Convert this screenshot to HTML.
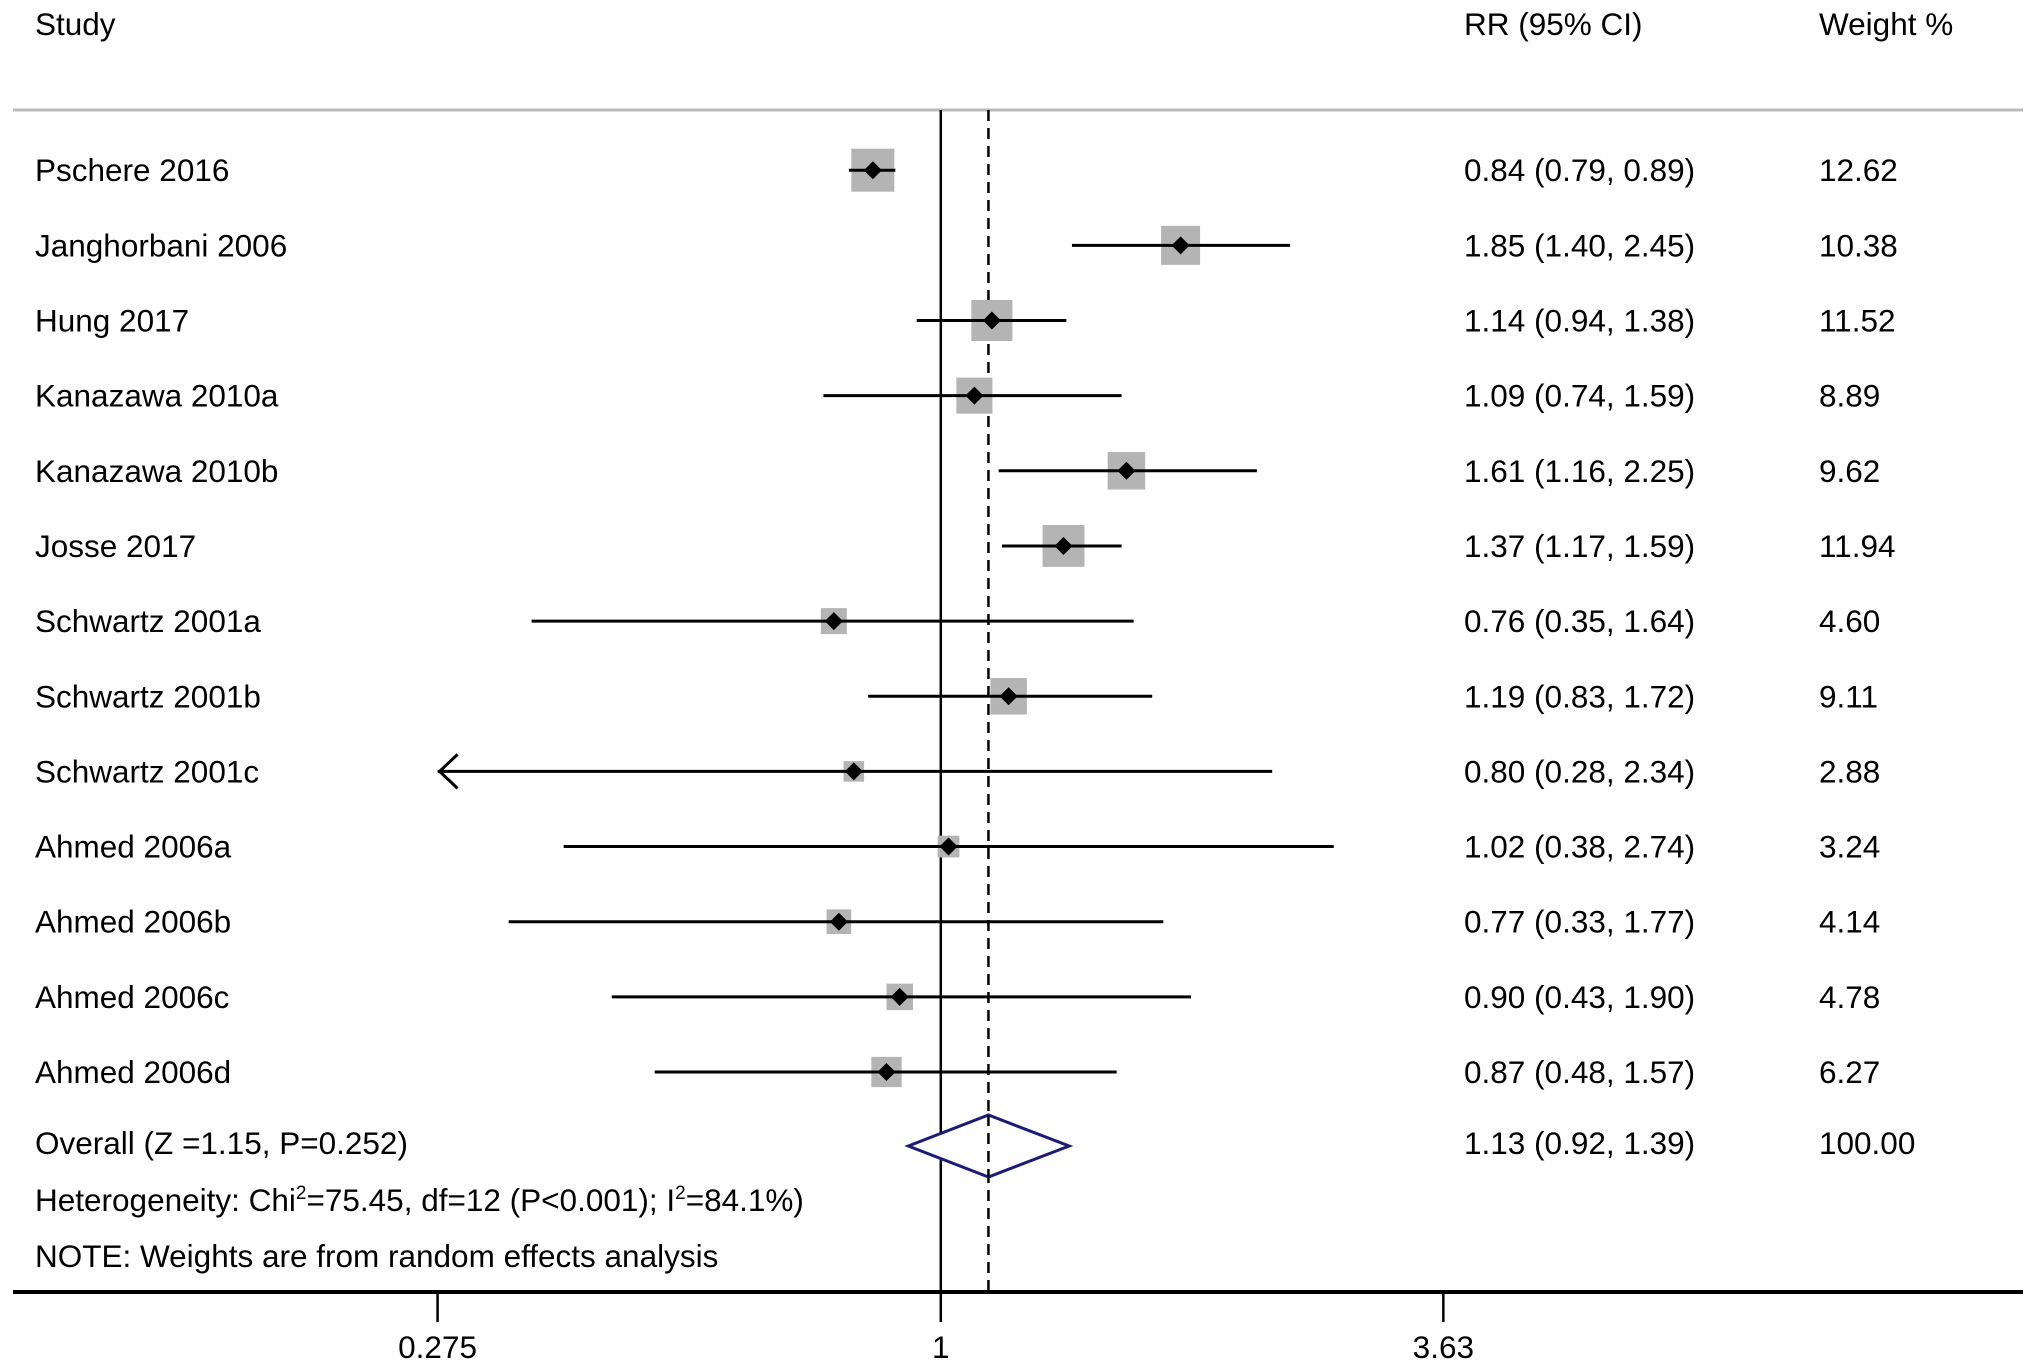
<!DOCTYPE html>
<html><head><meta charset="utf-8"><style>
body{margin:0;background:#fff;}
svg{display:block;font-family:"Liberation Sans",Arial,sans-serif;}
</style></head><body>
<svg id="plot" width="2031" height="1370" viewBox="0 0 2031 1370" xmlns="http://www.w3.org/2000/svg">
<text x="35" y="35" font-size="31.5">Study</text>
<text x="1464" y="35" font-size="31.5">RR (95% CI)</text>
<text x="1819" y="35" font-size="31.5">Weight %</text>
<line x1="13" y1="110" x2="2023" y2="110" stroke="#bbb" stroke-width="3"/>
<g id="marks"></g>
</svg>
<script>
const studies=["Pschere 2016","Janghorbani 2006","Hung 2017","Kanazawa 2010a","Kanazawa 2010b","Josse 2017","Schwartz 2001a","Schwartz 2001b","Schwartz 2001c","Ahmed 2006a","Ahmed 2006b","Ahmed 2006c","Ahmed 2006d"];
const rr=[0.84,1.85,1.14,1.09,1.61,1.37,0.76,1.19,0.80,1.02,0.77,0.90,0.87];
const lower=[0.79,1.40,0.94,0.74,1.16,1.17,0.35,0.83,0.28,0.38,0.33,0.43,0.48];
const upper=[0.89,2.45,1.38,1.59,2.25,1.59,1.64,1.72,2.34,2.74,1.77,1.90,1.57];
const weights=[12.62,10.38,11.52,8.89,9.62,11.94,4.60,9.11,2.88,3.24,4.14,4.78,6.27];
const overall=[1.13,0.92,1.39];
const ticks=[0.275,1,3.63];
const tickLabels=["0.275","1","3.63"];
const NS="http://www.w3.org/2000/svg";
const g=document.getElementById('marks');
const xMin=0.275,xMax=3.63,arrowBelow=0.3;
function xs(v){v=Math.max(xMin,Math.min(xMax,v));return 940.8+389.8*Math.log(v);}
function ys(i){return 170.2+75.15*i;}
function mk(tag,attrs){const e=document.createElementNS(NS,tag);for(const k in attrs)e.setAttribute(k,attrs[k]);g.appendChild(e);return e;}
function fmt(v){return v.toFixed(2);}
const yTop=110,yAxis=1292,FS=31.5;
let e;
e=mk('line',{x1:xs(1),y1:yTop,x2:xs(1),y2:yAxis,stroke:'#000','stroke-width':2.5});


e=mk('line',{x1:xs(overall[0]),y1:yTop,x2:xs(overall[0]),y2:yAxis,stroke:'#000','stroke-width':2.5,'stroke-dasharray':'11 7'});


studies.forEach((s,i)=>{
  const y=ys(i);
  const sz=43*Math.sqrt(weights[i]/12.62);
  e=mk('rect',{x:xs(rr[i])-sz/2,y:y-sz/2,width:sz,height:sz,fill:'#b4b4b4'});
  
  
  const lo=lower[i]<arrowBelow?xs(xMin):xs(lower[i]);
  e=mk('line',{x1:lo,y1:y,x2:xs(upper[i]),y2:y,stroke:'#000','stroke-width':3});
  
  
  if(lower[i]<arrowBelow){
    e=mk('polyline',{points:`${lo+20},${y-17} ${lo+2},${y} ${lo+20},${y+17}`,fill:'none',stroke:'#000','stroke-width':3});
    
    
  }
  const cx=xs(rr[i]);
  e=mk('polygon',{points:`${cx-9},${y} ${cx},${y-9} ${cx+9},${y} ${cx},${y+9}`,fill:'#000'});
  
  
  e=mk('text',{x:35,y:y+11,'font-size':FS});e.textContent=s;
  
  
  e=mk('text',{x:1464,y:y+11,'font-size':FS});e.textContent=`${fmt(rr[i])} (${fmt(lower[i])}, ${fmt(upper[i])})`;
  
  
  e=mk('text',{x:1819,y:y+11,'font-size':FS});e.textContent=fmt(weights[i]);
  
  
});
const oy=1146;
e=mk('polygon',{points:`${xs(overall[1])},${oy} ${xs(overall[0])},${oy-31} ${xs(overall[2])},${oy} ${xs(overall[0])},${oy+31}`,fill:'#fff',stroke:'#1c1c78','stroke-width':3});


e=mk('line',{x1:xs(overall[0]),y1:oy-31,x2:xs(overall[0]),y2:oy+31,stroke:'#000','stroke-width':2.5,'stroke-dasharray':'11 7'});


e=mk('text',{x:35,y:oy+8,'font-size':FS});e.textContent='Overall (Z =1.15, P=0.252)';


e=mk('text',{x:1464,y:oy+8,'font-size':FS});e.textContent=`${fmt(overall[0])} (${fmt(overall[1])}, ${fmt(overall[2])})`;


e=mk('text',{x:1819,y:oy+8,'font-size':FS});e.textContent='100.00';


e=mk('text',{x:35,y:1211,'font-size':FS});e.innerHTML='Heterogeneity: Chi<tspan font-size="19" dy="-12">2</tspan><tspan dy="12">=75.45, df=12 (P&lt;0.001); I</tspan><tspan font-size="19" dy="-12">2</tspan><tspan dy="12">=84.1%)</tspan>';


e=mk('text',{x:35,y:1267,'font-size':FS});e.textContent='NOTE: Weights are from random effects analysis';


e=mk('line',{x1:13,y1:yAxis,x2:2023,y2:yAxis,stroke:'#000','stroke-width':4});


ticks.forEach((t,i)=>{
  e=mk('line',{x1:xs(t),y1:yAxis,x2:xs(t),y2:yAxis+30,stroke:'#000','stroke-width':2.5});
  
  
  e=mk('text',{x:xs(t),y:1358,'font-size':FS,'text-anchor':'middle'});e.textContent=tickLabels[i];
  
  
});
</script>
</body></html>
